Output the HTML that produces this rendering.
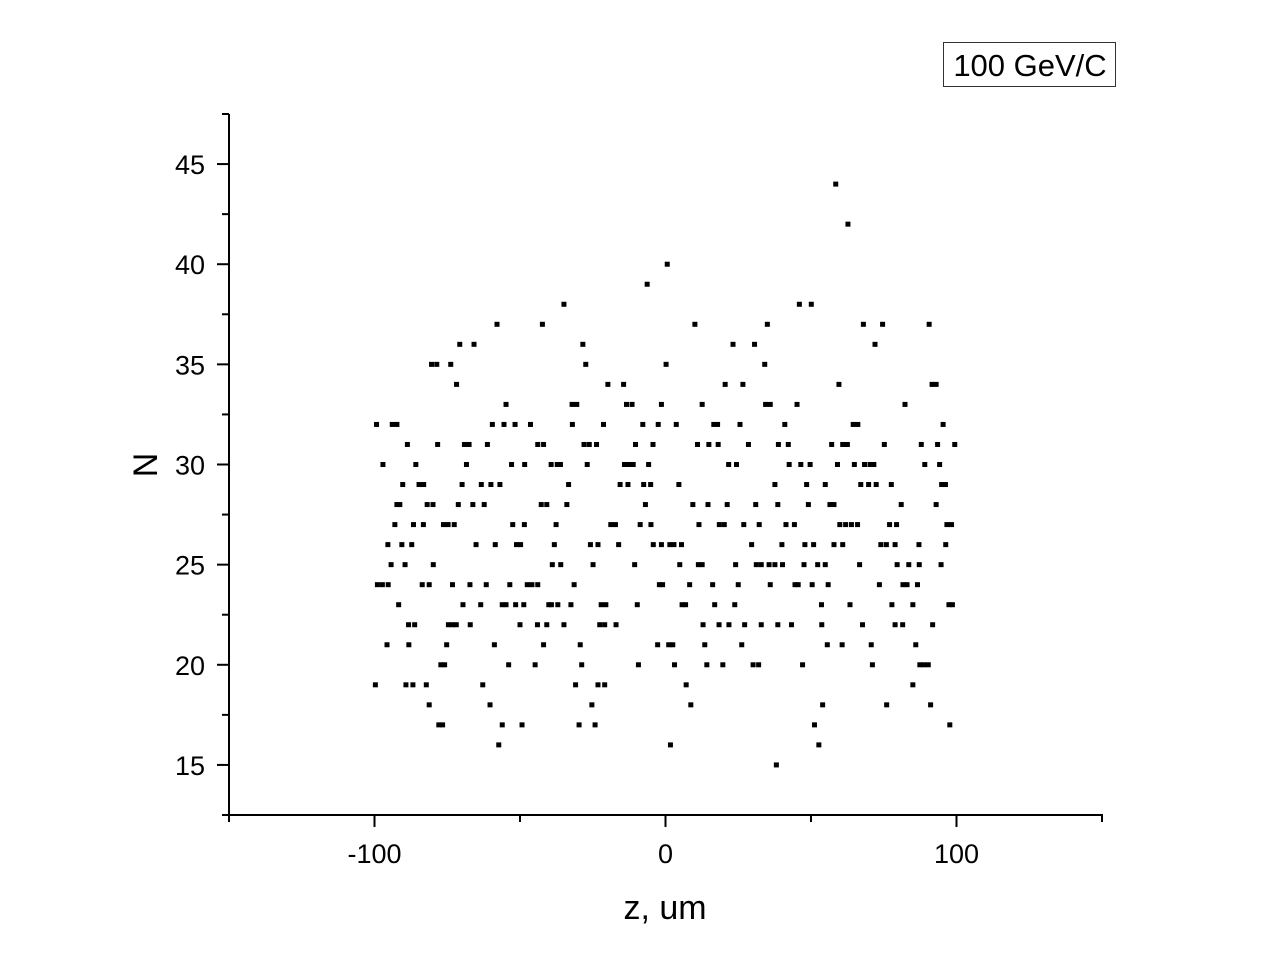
<!DOCTYPE html>
<html><head><meta charset="utf-8"><style>
html,body{margin:0;padding:0;background:#fff;}
svg{display:block;font-family:"Liberation Sans",Arial,sans-serif;}
</style></head><body>
<svg id="chart" width="1280" height="979" viewBox="0 0 1280 979" xmlns="http://www.w3.org/2000/svg">
<rect width="1280" height="979" fill="#fff"/>
<g id="axes"></g>
<g id="points"></g>
<text x="665" y="919" font-size="34" text-anchor="middle">z, um</text>
<text transform="translate(157,465) rotate(-90)" font-size="34" text-anchor="middle">N</text>
<g>
<rect x="943.5" y="42.5" width="172" height="44" fill="#fff" stroke="#333" stroke-width="1"/>
<text x="1030" y="76" font-size="31" text-anchor="middle">100 GeV/C</text>
</g>
</svg>
<script>
const xTicks = [-100, 0, 100];
const xMinorTicks = [-150, -50, 50, 150];
const yTicks = [15, 20, 25, 30, 35, 40, 45];
const yMinorTicks = [12.5, 17.5, 22.5, 27.5, 32.5, 37.5, 42.5, 47.5];
const rowN = [44,42,40,39,38,37,36,35,34,33,32,31,30,29,28,27,26,25,24,23,22,21,20,19,18,17,16,15];
const z44=[58.5];
const z42=[62.7];
const z40=[0.6];
const z39=[-6.3];
const z38=[-34.9,46.0,50.1];
const z37=[-57.9,-42.3,10.1,35.0,68.0,74.6,90.6];
const z36=[-70.7,-65.8,-28.4,23.2,30.6,72.0];
const z35=[-80.4,-78.6,-73.8,-27.4,0.2,34.1];
const z34=[-71.8,-19.8,-14.4,20.5,26.6,59.6,91.6,93.0];
const z33=[-54.8,-32.1,-30.5,-13.4,-11.5,-1.4,12.6,34.4,36.0,45.2,82.3];
const z32=[-99.3,-93.9,-92.3,-59.5,-55.5,-51.7,-46.4,-32.0,-21.3,-7.8,-2.5,3.7,16.6,17.9,25.6,41.0,64.5,66.1,95.4];
const z31=[-88.7,-78.3,-69.1,-67.5,-61.2,-43.9,-41.9,-28.0,-26.2,-23.7,-10.3,-4.3,11.0,14.9,18.1,28.5,38.8,42.2,57.1,60.9,62.5,75.2,87.9,93.5,99.4];
const z30=[-97.1,-85.8,-68.4,-52.9,-48.4,-39.3,-37.2,-36.1,-26.9,-14.1,-12.5,-11.1,-5.8,21.7,24.4,42.5,46.5,49.7,59.1,64.9,68.4,70.3,71.6,89.1,94.2];
const z29=[-90.3,-84.7,-83.1,-69.9,-63.3,-60.0,-56.9,-33.3,-15.6,-12.9,-7.5,-5.1,4.6,37.6,48.5,54.9,67.1,69.8,72.4,77.6,94.9,96.2];
const z28=[-92.3,-91.3,-81.9,-79.9,-71.2,-66.2,-62.3,-42.7,-40.8,-33.9,-6.9,9.4,14.6,21.2,31.0,38.6,49.1,56.5,57.9,81.0,93.0];
const z27=[-93.0,-86.6,-83.2,-76.3,-74.7,-72.6,-52.5,-48.5,-37.6,-18.8,-17.2,-8.7,-5.0,11.5,18.5,20.2,26.9,32.2,41.4,44.3,59.9,61.9,63.9,66.0,77.0,79.4,96.7,98.3];
const z26=[-95.4,-90.6,-87.2,-65.1,-58.5,-51.2,-49.8,-38.2,-25.8,-23.2,-16.1,-4.2,-1.4,1.5,2.9,5.5,29.6,40.0,47.9,50.9,57.9,60.9,74.0,75.9,78.9,87.1,96.3];
const z25=[-94.3,-89.5,-79.8,-38.9,-36.0,-24.9,-10.6,4.9,11.3,12.6,24.1,31.2,32.9,35.6,37.6,40.2,47.6,52.3,54.9,66.7,79.6,83.6,87.2,94.7];
const z24=[-99.0,-97.3,-95.3,-83.6,-81.2,-73.2,-67.2,-61.6,-53.5,-47.5,-45.9,-43.9,-31.4,-2.1,-1.0,8.3,16.2,25.0,36.0,44.5,45.6,50.4,55.9,73.5,81.6,83.0,86.6];
const z23=[-91.7,-69.6,-63.5,-56.1,-54.8,-51.5,-48.7,-40.1,-39.2,-37.0,-32.5,-22.1,-20.5,-9.7,5.7,6.9,16.9,23.8,53.6,63.4,77.8,85.0,97.4,98.6];
const z22=[-88.3,-86.2,-74.6,-73.2,-71.9,-67.1,-50.0,-44.0,-40.8,-34.9,-22.6,-20.9,-17.0,12.9,18.4,21.8,27.2,32.9,38.6,43.3,53.7,67.7,78.9,81.5,91.8];
const z21=[-95.7,-88.2,-75.2,-58.8,-41.9,-29.3,-2.7,1.1,2.5,13.5,26.2,55.6,60.7,70.7,86.0];
const z20=[-77.2,-75.9,-53.9,-44.8,-28.8,-9.3,3.1,14.2,19.7,30.1,32.0,47.1,71.1,87.4,88.7,90.3];
const z19=[-99.7,-89.2,-86.8,-82.2,-62.8,-30.9,-23.2,-20.9,7.1,85.0];
const z18=[-81.2,-60.3,-25.3,8.7,54.0,76.0,91.1];
const z17=[-77.9,-76.6,-56.1,-49.3,-29.7,-24.2,51.2,97.7];
const z16=[-57.3,1.7,52.7];
const z15=[38.1];
const rows=[z44,z42,z40,z39,z38,z37,z36,z35,z34,z33,z32,z31,z30,z29,z28,z27,z26,z25,z24,z23,z22,z21,z20,z19,z18,z17,z16,z15];

const NS="http://www.w3.org/2000/svg";
const X0=229,X1=1102,Y0=815,Y1=114;
const xMin=-150,xMax=150,yMin=12.5,yMax=47.5;
function xs(v){return X0+(v-xMin)/(xMax-xMin)*(X1-X0);}
function ys(v){return Y0-(v-yMin)/(yMax-yMin)*(Y0-Y1);}
function mk(tag,attrs,parent){const e=document.createElementNS(NS,tag);for(const k in attrs)e.setAttribute(k,attrs[k]);parent.appendChild(e);return e;}
const axes=document.getElementById('axes');
let e;
e=mk('line',{x1:X0,y1:Y0,x2:X1+1,y2:Y0,stroke:'#000','stroke-width':2},axes);


e=mk('line',{x1:X0,y1:Y1,x2:X0,y2:Y0+1,stroke:'#000','stroke-width':2},axes);


xTicks.forEach(v=>{
  e=mk('line',{x1:xs(v),y1:Y0,x2:xs(v),y2:Y0+12,stroke:'#000','stroke-width':2},axes);
  
  
  e=mk('text',{x:xs(v),y:863,'font-size':27,'text-anchor':'middle'},axes);
  e.textContent=String(v);
  
  
});
xMinorTicks.forEach(v=>{
  e=mk('line',{x1:xs(v),y1:Y0,x2:xs(v),y2:Y0+7,stroke:'#000','stroke-width':2},axes);
  
  
});
yTicks.forEach(v=>{
  e=mk('text',{x:205,y:ys(v)+10,'font-size':27,'text-anchor':'end'},axes);
  e.textContent=String(v);
  
  
  e=mk('line',{x1:X0-12,y1:ys(v),x2:X0,y2:ys(v),stroke:'#000','stroke-width':2},axes);
  
  
});
yMinorTicks.forEach(v=>{
  e=mk('line',{x1:X0-7,y1:ys(v),x2:X0,y2:ys(v),stroke:'#000','stroke-width':2},axes);
  
  
});
const pts=document.getElementById('points');
rows.forEach((arr,i)=>{
  const n=rowN[i];
  arr.forEach(z=>{
    const p=mk('rect',{x:xs(z)-2.5,y:ys(n)-2.5,width:5,height:5,fill:'#000'},pts);
    
    
  });
});
</script>
</body></html>
